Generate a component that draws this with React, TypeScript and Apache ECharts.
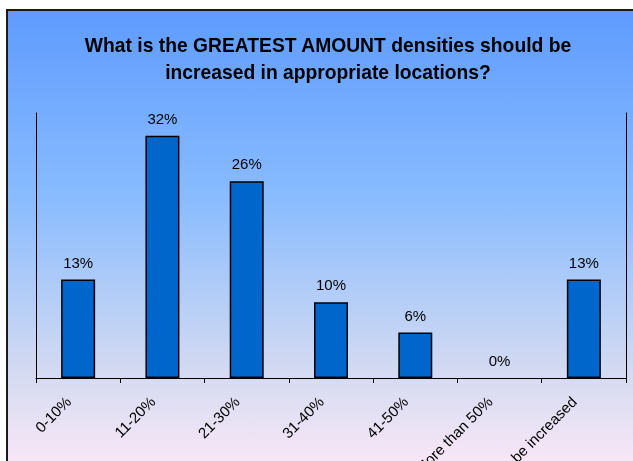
import React, { useEffect, useRef } from "react";
import * as echarts from "echarts";

const categories = ["0-10%", "11-20%", "21-30%", "31-40%", "41-50%", "More than 50%", "Should not be increased"];
const values = [13, 32, 26, 10, 6, 0, 13];
const titleText = "What is the GREATEST AMOUNT densities should be\nincreased in appropriate locations?";

export default function App() {
  const ref = useRef<HTMLDivElement>(null);
  useEffect(() => {
    if (!ref.current) return;
    const chart = echarts.init(ref.current, null, { renderer: "svg" });
    chart.setOption({
      animation: false,
      graphic: [
        {
          type: "rect",
          z: -10,
          silent: true,
          shape: { x: 7, y: 10, width: 640, height: 470 },
          style: {
            fill: new echarts.graphic.LinearGradient(0, 0, 0, 1, [
              { offset: 0, color: "#5E9BFE" },
              { offset: 0.4, color: "#89BCFF" },
              { offset: 0.78, color: "#D6DBF1" },
              { offset: 1, color: "#FFE9F8" },
            ]),
            stroke: "#1a1a1a",
            lineWidth: 2,
          },
        },
      ],
      title: {
        text: titleText,
        left: 323,
        top: 27,
        textAlign: "center",
        textStyle: {
          fontFamily: "Liberation Sans, Arial, sans-serif",
          fontSize: 19.3,
          fontWeight: "bold",
          color: "#000",
          lineHeight: 27,
        },
      },
      grid: { left: 36, right: 7, top: 113, bottom: 83, containLabel: false, outerBoundsMode: "none" },
      xAxis: {
        type: "category",
        data: categories,
        axisLine: { lineStyle: { color: "#000", width: 1 } },
        axisTick: { show: true, length: 5, lineStyle: { color: "#000" } },
        axisLabel: {
          rotate: 45,
          interval: 0,
          margin: 11,
          padding: [0, 14, 0, 0],
          fontFamily: "Liberation Sans, Arial, sans-serif",
          fontSize: 15,
          color: "#000",
        },
      },
      yAxis: [
        {
          type: "value",
          min: 0,
          max: 35,
          axisLine: { show: true, lineStyle: { color: "#000" } },
          axisTick: { show: false },
          axisLabel: { show: false },
          splitLine: { show: false },
        },
        {
          type: "value",
          position: "right",
          min: 0,
          max: 35,
          axisLine: { show: true, lineStyle: { color: "#000" } },
          axisTick: { show: false },
          axisLabel: { show: false },
          splitLine: { show: false },
        },
      ],
      series: [
        {
          type: "bar",
          data: values.map((v) => ({
            value: v,
            itemStyle: v === 0 ? { borderWidth: 0 } : undefined,
          })),
          barWidth: 34,
          itemStyle: { color: "#0066CC", borderColor: "#000", borderWidth: 1.5 },
          label: {
            show: true,
            position: "top",
            distance: 10,
            formatter: "{c}%",
            fontFamily: "Liberation Sans, Arial, sans-serif",
            fontSize: 15,
            color: "#000",
          },
        },
      ],
    });
    return () => chart.dispose();
  }, []);
  return <div ref={ref} style={{ position: "fixed", left: 0, top: 0, width: 633, height: 461 }} />;
}
